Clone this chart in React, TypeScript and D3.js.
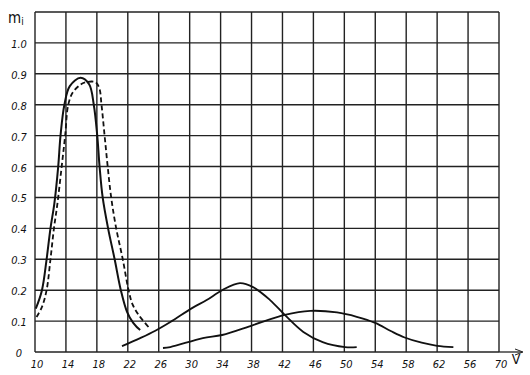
import React from "react";
import * as d3 from "d3";

// ---- data ----
const xTicks = [10, 14, 18, 22, 26, 30, 34, 38, 42, 46, 50, 54, 58, 62, 66, 70];
const xTickLabels = ["10", "14", "18", "22", "26", "30", "34", "38", "42", "46", "50", "54", "58", "62", "56", "70"];
const yTicks = [0, 0.1, 0.2, 0.3, 0.4, 0.5, 0.6, 0.7, 0.8, 0.9, 1.0];
const yTickLabels = ["0", "0.1", "0.2", "0.3", "0.4", "0.5", "0.6", "0.7", "0.8", "0.9", "1.0"];

const solidAX = [10.1, 10.9, 11.5, 12.0, 12.5, 13.0, 13.3, 13.8, 14.5, 15.9, 17.0, 17.6, 18.05, 18.35, 18.75, 19.45, 20.3, 21.1, 21.9, 22.7, 23.6];
const solidAY = [0.14, 0.2, 0.3, 0.4, 0.48, 0.6, 0.7, 0.8, 0.86, 0.887, 0.866, 0.8, 0.7, 0.6, 0.5, 0.4, 0.3, 0.2, 0.13, 0.094, 0.071];

const dashedBX = [10.2, 10.9, 11.5, 12.0, 12.45, 12.9, 13.45, 13.9, 14.3, 14.9, 16.0, 16.6, 17.8, 18.3, 18.6, 19.0, 19.4, 19.85, 20.5, 21.35, 22.1, 22.6, 23.4, 24.7];
const dashedBY = [0.113, 0.146, 0.2, 0.3, 0.4, 0.48, 0.6, 0.7, 0.8, 0.84, 0.867, 0.873, 0.873, 0.855, 0.8, 0.7, 0.6, 0.5, 0.4, 0.3, 0.2, 0.155, 0.12, 0.08];

const curveCX = [21.25, 23.6, 25.5, 27.5, 30.3, 32.2, 34.2, 36.5, 38.2, 40.4, 42.3, 44.7, 47.2, 50.1, 51.6];
const curveCY = [0.019, 0.045, 0.068, 0.097, 0.142, 0.168, 0.2, 0.223, 0.21, 0.168, 0.12, 0.065, 0.032, 0.016, 0.016];

const curveDX = [26.55, 27.5, 31.7, 34.2, 38.2, 42.3, 45.6, 49.05, 51.6, 54.0, 56.0, 57.8, 60.0, 62.0, 64.1];
const curveDY = [0.013, 0.016, 0.045, 0.055, 0.087, 0.12, 0.133, 0.128, 0.114, 0.094, 0.068, 0.047, 0.03, 0.02, 0.016];

const W = 530;
const H = 375;

export default function App() {
  const x = d3.scaleLinear().domain([10, 70]).range([35, 499]);
  const y = d3.scaleLinear().domain([0, 1.1]).range([352, 12]);

  const line = d3
    .line<[number, number]>()
    .x((d) => x(d[0]))
    .y((d) => y(d[1]))
    .curve(d3.curveCatmullRom.alpha(0.5));

  const zip = (xs: number[], ys: number[]) => xs.map((v, i) => [v, ys[i]] as [number, number]);

  const gridColor = "#222";
  const curveColor = "#111";
  const font = "'DejaVu Sans Condensed', 'DejaVu Sans', sans-serif";

  return (
    <svg
      width={W}
      height={H}
      style={{ position: "absolute", left: 0, top: 0, background: "#fff" }}
      xmlns="http://www.w3.org/2000/svg"
    >
      <rect x={0} y={0} width={W} height={H} fill="#fff" />
      {/* vertical grid */}
      {xTicks.map((t) => (
        <line
          key={"v" + t}
          x1={x(t)}
          x2={x(t)}
          y1={y(1.1)}
          y2={y(0)}
          stroke={gridColor}
          strokeWidth={1.4}
        />
      ))}
      {/* horizontal grid */}
      {[...yTicks, 1.1].map((t) => (
        <line
          key={"h" + t}
          x1={x(10)}
          x2={x(70)}
          y1={y(t)}
          y2={y(t)}
          stroke={gridColor}
          strokeWidth={1.4}
        />
      ))}
      {/* x axis extension with arrow */}
      <line x1={x(70)} x2={522} y1={y(0)} y2={y(0)} stroke={gridColor} strokeWidth={1.3} />
      <path d={`M 515 ${y(0) - 3} L 523 ${y(0)} L 515 ${y(0) + 3}`} fill="none" stroke={gridColor} strokeWidth={1} />

      {/* curves */}
      <path d={line(zip(solidAX, solidAY)) || ""} fill="none" stroke={curveColor} strokeWidth={2} />
      <path
        d={line(zip(dashedBX, dashedBY)) || ""}
        fill="none"
        stroke={curveColor}
        strokeWidth={1.8}
        strokeDasharray="5,3"
      />
      <path d={line(zip(curveCX, curveCY)) || ""} fill="none" stroke={curveColor} strokeWidth={1.8} />
      <path d={line(zip(curveDX, curveDY)) || ""} fill="none" stroke={curveColor} strokeWidth={1.8} />

      {/* y tick labels */}
      {yTicks.map((t, i) => (
        <text
          key={"yl" + t}
          x={19}
          y={y(t) + 2}
          textAnchor="middle"
          dominantBaseline="middle"
          fontFamily={font}
          fontStyle="italic"
          fontSize={11}
          fill="#111"
        >
          {yTickLabels[i]}
        </text>
      ))}
      {/* x tick labels */}
      {xTicks.map((t, i) => (
        <text
          key={"xl" + t}
          x={x(t) + 2}
          y={368}
          textAnchor="middle"
          fontFamily={font}
          fontStyle="italic"
          fontSize={11}
          fill="#111"
        >
          {xTickLabels[i]}
        </text>
      ))}
      {/* axis titles */}
      <text x={8} y={23} fontFamily={font} fontSize={15} fill="#111">
        m
        <tspan fontSize={10} dy={2}>
          i
        </tspan>
      </text>
      <text x={516} y={364} textAnchor="middle" fontFamily={font} fontSize={14} fill="#111">
        V
      </text>
    </svg>
  );
}
